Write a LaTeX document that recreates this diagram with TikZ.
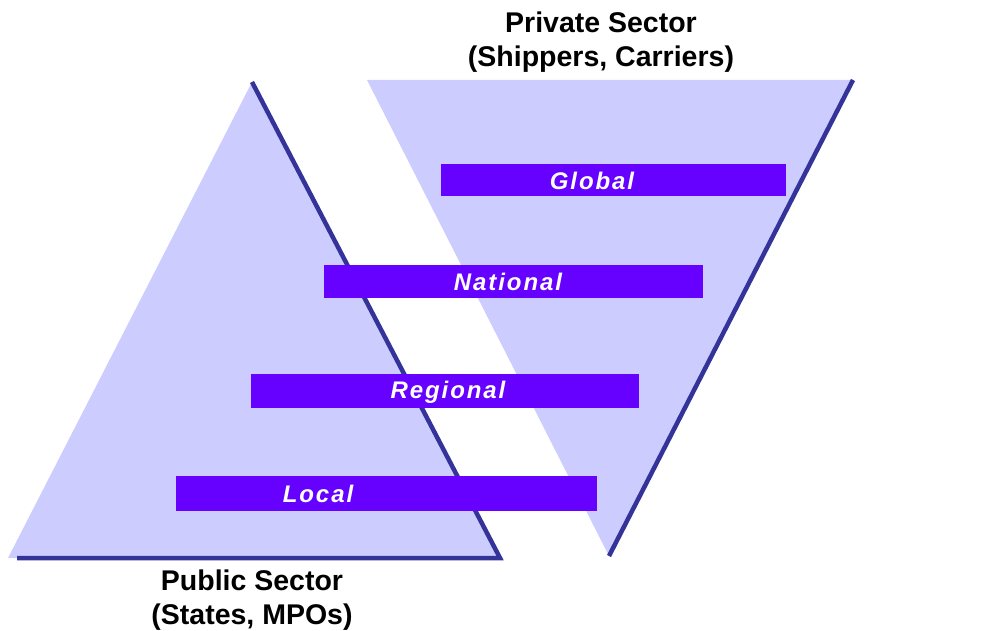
\documentclass[tikz,border=0pt]{standalone}
\usepackage{fontspec}
\setmainfont{Liberation Sans}
\newfontfamily\bandfont{Liberation Sans}[LetterSpace=8]
\definecolor{pyrfill}{HTML}{CCCCFF}
\definecolor{rimblue}{HTML}{333399}
\definecolor{bandviolet}{HTML}{6600FF}
\begin{document}
\begin{tikzpicture}[x=1pt,y=-1pt,
  sector/.style={fill=pyrfill, draw=none},
  rim/.style={draw=rimblue, line width=4.5pt, line join=miter},
  band/.style={fill=bandviolet, draw=none, inner sep=0pt},
  bandtext/.style={text=white, inner sep=0pt,
    font=\bandfont\fontsize{24}{24}\selectfont\bfseries\itshape},
  heading/.style={align=center, inner sep=0pt,
    font=\fontsize{28.5}{34}\selectfont\bfseries}]
\useasboundingbox (0,0) rectangle (982,631);

% public sector pyramid
\coordinate (pubApex) at (252,82);
\coordinate (pubLeft) at (8,558);
\coordinate (pubRight) at (500,558);
\coordinate (pubBase) at (17,558);
\fill[sector] (pubApex) -- (pubRight) -- (pubLeft) -- cycle;
\draw[rim] (pubApex) -- (pubRight) -- (pubBase);

% private sector funnel
\coordinate (privLeft) at (367,80);
\coordinate (privRight) at (853,80);
\coordinate (privTip) at (609,556);
\fill[sector] (privLeft) -- (privRight) -- (privTip) -- cycle;
\draw[rim] (privRight) -- (privTip);

% scale bands
\node[band, minimum width=345pt, minimum height=32pt] (global) at (613.5,180) {};
\node[band, minimum width=379pt, minimum height=33pt] (national) at (513.5,281.5) {};
\node[band, minimum width=388pt, minimum height=34pt] (regional) at (445,391) {};
\node[band, minimum width=421pt, minimum height=35pt] (local) at (386.5,493.5) {};

\node[bandtext] (globalTxt) at (592,181) {Global};
\node[bandtext] (nationalTxt) at (508,282) {National};
\node[bandtext] (regionalTxt) at (448,392) {Regional};
\node[bandtext] (localTxt) at (318,494) {Local};

% sector captions
\node[heading] (private) at (601,42) {Private Sector\\(Shippers, Carriers)};
\node[heading] (public) at (252,600) {Public Sector\\(States, MPOs)};
\end{tikzpicture}
\end{document}
